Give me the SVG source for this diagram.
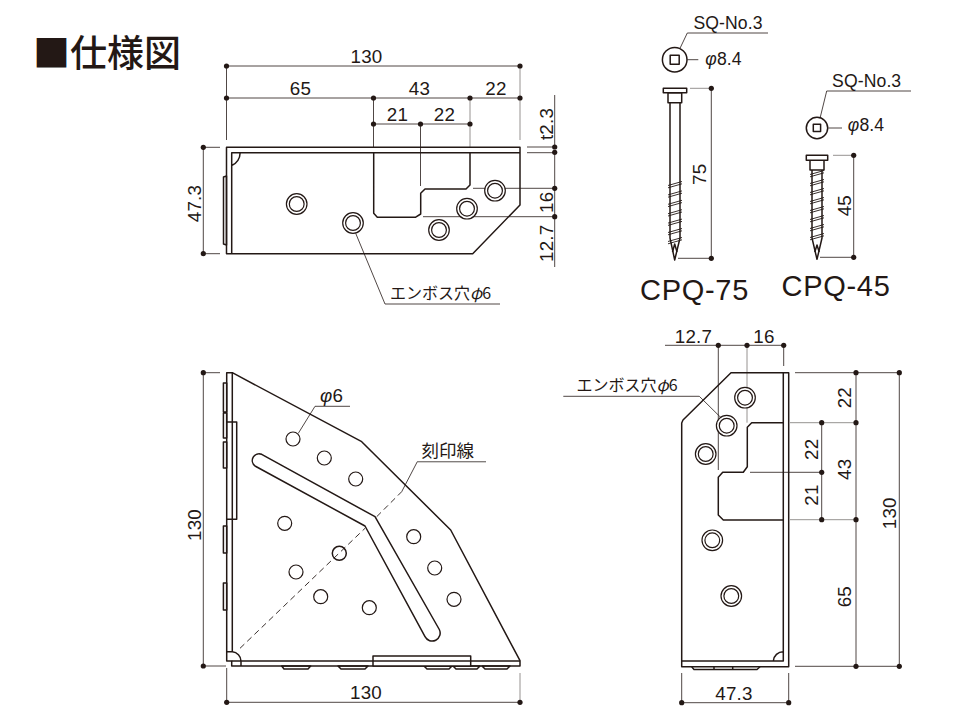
<svg xmlns="http://www.w3.org/2000/svg" width="960" height="720" viewBox="0 0 960 720">
<style>
text{fill:#231815;font-family:"Liberation Sans","Noto Sans CJK JP",sans-serif}
.d{font-size:18.8px;text-anchor:middle;letter-spacing:.2px}
.s{font-size:17.6px;text-anchor:middle;letter-spacing:.1px}
.j{font-family:"Noto Sans CJK JP",sans-serif;font-size:16px}
.t{font-size:29px;letter-spacing:.7px}
.i{font-style:italic}
.p{fill:none;stroke:#231815;stroke-width:1.5;stroke-linejoin:round}
.pw{fill:#fff;stroke:#231815;stroke-width:1.5;stroke-linejoin:round}
.b{fill:#231815}
.l{fill:none;stroke:#231815;stroke-width:.8}
.g{fill:none;stroke:#8a8785;stroke-width:.9}
.o{fill:#fff;stroke:#231815;stroke-width:1.2}
.thin{fill:none;stroke:#231815;stroke-width:.9}
.dash{fill:none;stroke:#231815;stroke-width:.9;stroke-dasharray:6 4}
</style>
<defs>
<circle id="dot" r="2.6" class="b"/>
<g id="emb"><circle r="10.3" class="o"/><circle r="7.4" class="o"/></g>
<circle id="hole" r="7" class="o"/>
<path id="thr" d="M-7-1.5 7-5.5M-7 .8 7-3.2" class="thin"/>
</defs>

<g id="title"><text x="33" y="67" style="font-family:'Noto Sans CJK JP',sans-serif;font-size:37px;font-weight:500">■仕様図</text></g>

<g id="connectors">
<path class="l" d="M226.5 66H520M226.5 98H520M373.5 124H470M226.5 66V140M373.5 98V147M420.5 124V186M554.7 147V95M554.7 152V267M203.3 147.3V253.7M203.3 147.3H220M203.3 253.7H220M473 188.3H554.7M423 216.7H554.7M527 147H554.7M527 152.7H554.7"/>
<path class="g" d="M520 66V140M470 98V147"/>
<path class="l" d="M355.7 233.3 385 304H500"/>
<path class="l" d="M203.3 372.7V666M203.3 372.7H220M203.3 666H226M226.7 668V702.3H520M298.3 433.3 315 406.3H350M401.7 491.7 417.3 461.7H486"/>
<path class="g" d="M520 673V702.3M417.3 461.7H486"/>
<path class="l" d="M665 345.3H783.7M718.3 345.3V470M783.7 345.3V366M856 372.7V666.3M899.3 372.7V666.3M821.7 422.7V519.7M795 372.7H899.3M795 666.3H899.3M750 472.3H821.7M563.3 396.3H699.3L721 417.7M681.7 673V702.7H788.7V673"/>
<path class="g" d="M747 345.3V422.7M790 422.7H856M790 519.7H856"/>
<path class="l" d="M680 48.3 687.3 33H768M687.3 59.7H698.3M820 118.3 826.7 91H911M828.3 128H842M711.3 88.3V258.3M678 258.3H711.3M853.7 155.3V257.3M820 257.3H853.7"/>
<path class="g" d="M690 88.3H711.3M833 155.3H853.7"/>
<g>
<use href="#dot" x="226.5" y="66"/><use href="#dot" x="520" y="66"/>
<use href="#dot" x="226.5" y="98"/><use href="#dot" x="373.5" y="98"/><use href="#dot" x="470" y="98"/><use href="#dot" x="520" y="98"/>
<use href="#dot" x="373.5" y="124"/><use href="#dot" x="420.5" y="124"/><use href="#dot" x="470" y="124"/>
<use href="#dot" x="554.7" y="147"/><use href="#dot" x="554.7" y="152.3"/><use href="#dot" x="554.7" y="188.3"/><use href="#dot" x="554.7" y="216.7"/>
<use href="#dot" x="203.3" y="147.3"/><use href="#dot" x="203.3" y="253.7"/>
<use href="#dot" x="203.3" y="372.7"/><use href="#dot" x="203.3" y="666"/>
<use href="#dot" x="226.7" y="702.3"/><use href="#dot" x="520" y="702.3"/>
<use href="#dot" x="718.3" y="345.3"/><use href="#dot" x="747" y="345.3"/><use href="#dot" x="783.7" y="345.3"/>
<use href="#dot" x="856" y="372.7"/><use href="#dot" x="856" y="422.7"/><use href="#dot" x="856" y="519.7"/><use href="#dot" x="856" y="666.3"/>
<use href="#dot" x="899.3" y="372.7"/><use href="#dot" x="899.3" y="666.3"/>
<use href="#dot" x="821.7" y="422.7"/><use href="#dot" x="821.7" y="472.3"/><use href="#dot" x="821.7" y="519.7"/>
<use href="#dot" x="681.7" y="702.7"/><use href="#dot" x="788.7" y="702.7"/>
<use href="#dot" x="711.3" y="88.3"/><use href="#dot" x="711.3" y="258.3"/>
<use href="#dot" x="853.7" y="155.3"/><use href="#dot" x="853.7" y="257.3"/>
</g>
</g>

<g id="top-view">
<path class="p" d="M223.5 177V244L226.5 245V176Z"/>
<path class="p" d="M226.5 147.3H520V205L472.7 253.7H226.5Z"/>
<path class="p" d="M231.7 253.7V152.7H520M231.7 165.5A13 13 0 0 0 240 152.7"/>
<path class="p" d="M373.7 152.7V213.3L377.3 217.3H415.3L420.7 214V193.3L425 189H466L470 185V152.7"/>
<use href="#emb" x="296.7" y="204"/><use href="#emb" x="353" y="223"/><use href="#emb" x="439" y="230"/><use href="#emb" x="467" y="208.7"/><use href="#emb" x="495" y="190.7"/>
</g>

<g id="plan-view">
<path class="p" d="M223.4 383V412H226.7V383ZM223.4 413V438H226.7V413ZM223.4 442V468H226.7V442ZM223.4 526V553H226.7V526ZM223.4 583V610H226.7V583Z"/>
<path class="p" d="M281.7 666 284 669H308L310.7 666ZM338 666 341 669H365L368 666ZM424 666 427 669H449L452 666ZM453 666 456 669H477L480 666ZM482 666 485 669H507L510 666Z"/>
<path class="p" d="M226.7 372.7H232.3L361.7 441.7 450.7 530 520 660.7V666H231.7V661H226.7Z"/>
<path class="p" d="M232.3 372.7V651.7M226.7 651.7H232.3A9.5 9.5 0 0 1 241 661V666M231.7 661H520"/>
<path class="p" d="M232.3 422H236.7V519.3H232.3M226.7 422H232.3M226.7 519.3H232.3"/>
<path class="pw" d="M373 666V656H470.7V666Z"/>
<path class="p" d="M373 661H470.7"/>
<path class="p" d="M261.7 454.3 375 516.7 439.3 629.5A7.6 7.6 0 0 1 425 636.7L365 526 255 466A6.8 6.8 0 0 1 261.7 454.3Z"/>
<path class="dash" d="M240 648.3 365 528.3M376.7 516.7 401.7 491.7"/>
<use href="#hole" x="293" y="439"/><use href="#hole" x="324.3" y="458"/><use href="#hole" x="355.7" y="479"/><use href="#hole" x="284.7" y="523.3"/><circle cx="339.3" cy="553.3" r="7" class="p"/><use href="#hole" x="296" y="572"/><use href="#hole" x="320.7" y="596.7"/><use href="#hole" x="369.3" y="607.7"/><use href="#hole" x="413.7" y="536.7"/><use href="#hole" x="434.7" y="568"/><use href="#hole" x="454" y="599.3"/>
</g>

<g id="side-view">
<path class="p" d="M691.7 666.7 694 669.5H757L760 666.7M714 666.7V669.5M732.7 666.7V669.5"/>
<path class="p" d="M681.7 666.7V423L683 420 731 372.7H788.7V666.7Z"/>
<path class="p" d="M783.3 372.7V661H681.7M773.3 661A10 10 0 0 1 783.3 651.7"/>
<path class="p" d="M783.3 422.7H751.7L747.3 427.3V466.7L743.3 472.3H722.7L718.3 477.3V515L723.3 520H783.3"/>
<use href="#emb" x="745" y="397.7"/><use href="#emb" x="726.7" y="425.7"/><use href="#emb" x="705.7" y="454"/><use href="#emb" x="712.3" y="540.3"/><use href="#emb" x="731.3" y="596"/>
</g>

<g id="screw-75">
<circle cx="674.7" cy="59.7" r="12.3" class="p"/><rect x="670.2" y="55.2" width="9" height="9" class="p"/>
<path class="p" d="M670 102.7V238L674.7 260 680 238V102.7"/>
<path class="p" d="M672.5 252 674.7 244 677 252"/>
<rect x="668" y="92.7" width="13.7" height="10" class="pw"/>
<rect x="663.3" y="88.3" width="23.4" height="4.4" class="pw"/>
<use href="#thr" x="675" y="187"/><use href="#thr" x="675" y="196.4"/><use href="#thr" x="675" y="205.8"/><use href="#thr" x="675" y="215.2"/><use href="#thr" x="675" y="224.6"/><use href="#thr" x="675" y="234"/><use href="#thr" x="675" y="243"/>
</g>

<g id="screw-45">
<circle cx="817" cy="128" r="10.7" class="p"/><rect x="813.3" y="124.3" width="7.3" height="7.3" class="p"/>
<path class="p" d="M812 170V238L817 259.3 822 238V170"/>
<path class="p" d="M814.8 252 817 245 819.2 252"/>
<rect x="810" y="160.3" width="14" height="9.7" class="pw"/>
<rect x="806.3" y="155.3" width="21.4" height="5" class="pw"/>
<use href="#thr" x="817" y="176"/><use href="#thr" x="817" y="185"/><use href="#thr" x="817" y="194"/><use href="#thr" x="817" y="203"/><use href="#thr" x="817" y="212"/><use href="#thr" x="817" y="221"/><use href="#thr" x="817" y="230"/><use href="#thr" x="817" y="239"/>
</g>

<g id="labels">
<text class="d" x="366.5" y="63">130</text>
<text class="d" x="300.5" y="95">65</text>
<text class="d" x="419.5" y="95">43</text>
<text class="d" x="496" y="95">22</text>
<text class="d" x="397.5" y="121">21</text>
<text class="d" x="444.5" y="121">22</text>
<text class="d" transform="translate(201 203.5) rotate(-90)">47.3</text>
<text class="d" transform="translate(553 124) rotate(-90)">t2.3</text>
<text class="d" transform="translate(553 202.3) rotate(-90)">16</text>
<text class="d" transform="translate(553 243.3) rotate(-90)">12.7</text>
<text class="j" x="390" y="299">エンボス穴<tspan class="i">φ</tspan>6</text>
<text class="d" x="331.5" y="402"><tspan class="i">φ</tspan>6</text>
<text class="j" style="font-size:17.5px" x="421.5" y="456.5">刻印線</text>
<text class="d" transform="translate(200.5 525) rotate(-90)">130</text>
<text class="d" x="366" y="699">130</text>
<text class="d" x="693.5" y="343">12.7</text>
<text class="d" x="764" y="343">16</text>
<text class="j" x="576.5" y="391">エンボス穴<tspan class="i">φ</tspan>6</text>
<text class="d" transform="translate(851 397.7) rotate(-90)">22</text>
<text class="d" transform="translate(818 449.3) rotate(-90)">22</text>
<text class="d" transform="translate(851 469.3) rotate(-90)">43</text>
<text class="d" transform="translate(818 495) rotate(-90)">21</text>
<text class="d" transform="translate(851 596.7) rotate(-90)">65</text>
<text class="d" transform="translate(896 513.3) rotate(-90)">130</text>
<text class="d" x="734" y="700">47.3</text>
<text class="s" x="728" y="29">SQ-No.3</text>
<text class="s" x="866.7" y="87">SQ-No.3</text>
<text class="s" x="723.5" y="65"><tspan class="i">φ</tspan>8.4</text>
<text class="s" x="866" y="131"><tspan class="i">φ</tspan>8.4</text>
<text class="d" transform="translate(706 174.3) rotate(-90)">75</text>
<text class="d" transform="translate(851 205.7) rotate(-90)">45</text>
<text class="t" x="640" y="300">CPQ-75</text>
<text class="t" x="781.5" y="296">CPQ-45</text>
</g>
</svg>
